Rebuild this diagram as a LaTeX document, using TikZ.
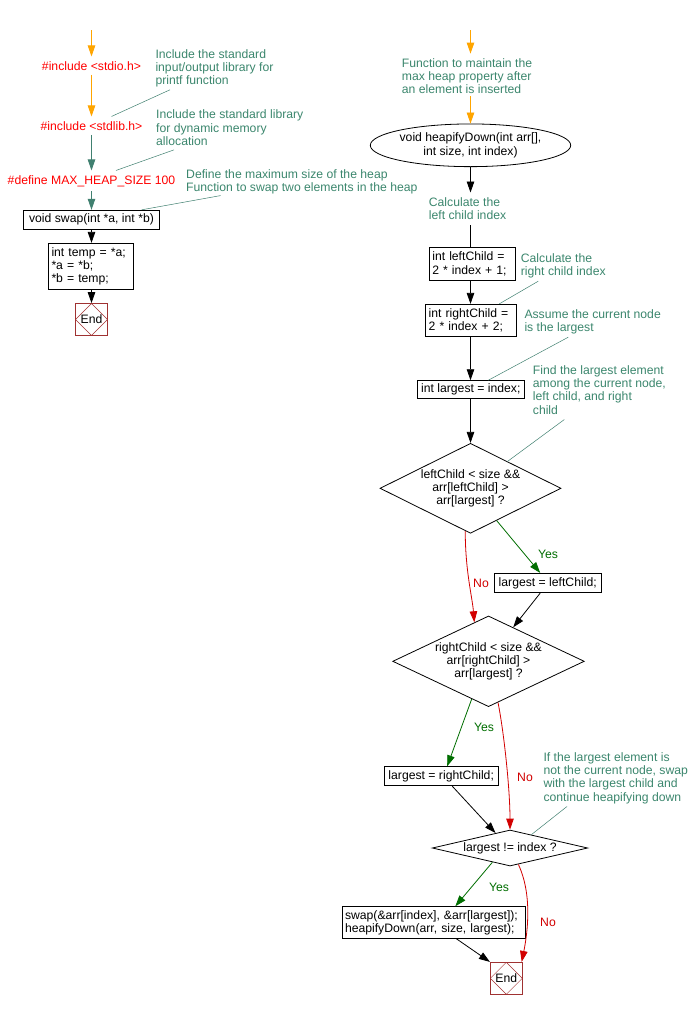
\documentclass[tikz,border=0pt]{standalone}
\usepackage{fontspec}
\setmainfont{Liberation Sans}
\usetikzlibrary{arrows.meta,shapes.geometric,calc}
\definecolor{notec}{RGB}{60,135,110}
\definecolor{orng}{RGB}{255,165,0}
\definecolor{tealc}{RGB}{64,128,112}
\definecolor{yesc}{RGB}{0,110,0}
\definecolor{noc}{RGB}{210,0,0}
\definecolor{incc}{RGB}{255,0,0}
\definecolor{endc}{RGB}{160,50,50}
\begin{document}
\begin{tikzpicture}[x=1pt,y=-1pt,
  every node/.append style={font=\fontsize{12.2}{13.3}\selectfont},
  conn/.style={-{Triangle[width=7.5pt,length=11pt]}, line width=0.8pt},
  plainln/.style={line width=0.8pt},
  cmtln/.style={tealc, line width=0.5pt},
  incl/.style={text=incc, inner sep=4.5pt, anchor=base},
  cmt/.style={text=notec, inner sep=0pt, anchor=north west, align=left},
  flowbox/.style={draw, line width=0.8pt, inner sep=0pt, align=center},
  leftbox/.style={draw, line width=0.8pt, inner xsep=3pt, inner ysep=0pt, align=left},
  decision/.style={diamond, draw, line width=0.8pt, inner sep=0pt, align=center},
  yeslab/.style={text=yesc, inner sep=0pt},
  nolab/.style={text=noc, inner sep=0pt},
  endbox/.style={draw=endc, line width=0.8pt, minimum size=32pt, inner sep=0pt,
    path picture={\draw[endc, line width=0.5pt]
      (path picture bounding box.north) -- (path picture bounding box.east) --
      (path picture bounding box.south) -- (path picture bounding box.west) -- cycle;}}
]
\fill[white] (0,0) rectangle (699,1009);
\useasboundingbox (0,0) rectangle (699,1009);

% ---------------- left column ----------------
\coordinate (ltop) at (91.5,30);
\node[incl] (inc1) at (91.5,70) {\#include <stdio.h>};
\node[incl] (inc2) at (91.5,130) {\#include <stdlib.h>};
\node[incl] (def) at (91.5,184) {\#define MAX\_HEAP\_SIZE 100};
\node[flowbox, minimum width=136pt, minimum height=19pt] (swp) at (91.5,219.7) {void swap(int *a, int *b)};
\node[leftbox, text width=79pt, minimum height=46pt] (tmp) at (91,266.3) {int temp = *a;\\{}*a = *b;\\{}*b = temp;};
\node[endbox] (e1) at (91.5,319.5) {End};

\draw[conn, orng] (ltop) -- (inc1);
\draw[conn, orng] (inc1) -- (inc2);
\draw[conn, tealc] (inc2) -- (def);
\draw[conn, tealc] (def) -- (swp);
\draw[conn] (swp) -- (tmp.north -| swp.south);
\draw[conn] (tmp.south -| e1.north) -- (e1);

\node[cmt] (c1) at (155.3,49.1) {Include the standard\\ input/output library for\\ printf function};
\node[cmt] (c2) at (156,109.8) {Include the standard library\\ for dynamic memory\\ allocation};
\node[cmt] (c3) at (186,169.1) {Define the maximum size of the heap\\ Function to swap two elements in the heap};
\draw[cmtln] ($(c1.south west)+(14.7,2.3)$) -- ([xshift=20pt]inc2.north);
\draw[cmtln] ($(c2.south west)+(18,4.1)$) -- ([xshift=24.5pt]def.north);
\draw[cmtln] ($(c3.south west)+(34.7,1.4)$) -- ([xshift=50.2pt]swp.north);

% ---------------- right column ----------------
\coordinate (rtop) at (470.5,30);
\node[cmt] (fn) at (401.7,58.1) {Function to maintain the\\ max heap property after\\ an element is inserted};
\node[ellipse, draw, line width=0.8pt, minimum width=161pt, minimum height=42.7pt, inner sep=0pt, align=center] (ell) at (470.5,145.3) {void heapifyDown(int arr[],\\ int size, int index)};
\draw[conn, orng] (rtop) -- ($(rtop |- fn.north)+(0,-4.5)$);
\draw[conn, orng] ($(rtop |- fn.south)+(0,2)$) -- (ell);

\node[cmt] (calc1) at (428.7,197.5) {Calculate the\\ left child index};
\draw[conn] (ell) -- ($(ell.south |- calc1.north)+(0,-5)$);

\node[leftbox, text width=80.4pt, minimum height=33.3pt] (lc) at (472.5,264) {int leftChild =\\ 2 * index + 1;};
\node[leftbox, text width=85pt, minimum height=32.4pt] (rc) at (471.2,320.5) {int rightChild =\\ 2 * index + 2;};
\node[flowbox, minimum width=107pt, minimum height=17.7pt] (lg) at (470.8,389.5) {int largest = index;};
\draw[plainln] ($(ell.south |- calc1.south)+(0,5)$) -- (ell.south |- lc.north);
\draw[conn] (lc.south -| ell.south) -- (rc.north -| ell.south);
\draw[conn] (rc.south -| ell.south) -- (lg.north -| ell.south);

\node[decision, minimum width=181pt, minimum height=90pt, aspect=2.01] (d1) at (470.5,488.3) {leftChild < size \&\&\\ arr[leftChild] >\\ arr[largest] ?};
\draw[conn] (lg.south -| d1.north) -- (d1);

\node[cmt] (c6) at (520.7,253.1) {Calculate the\\ right child index};
\node[cmt] (c7) at (524.3,309.1) {Assume the current node\\ is the largest};
\node[cmt] (c8) at (532.7,365.1) {Find the largest element\\ among the current node,\\ left child, and right\\ child};
\draw[cmtln] ($(c6.south west)+(17.6,3)$) -- ([xshift=28pt]rc.north);
\draw[cmtln] ($(c7.south west)+(44,3)$) -- ([xshift=17.5pt]lg.north);
\draw[cmtln] ($(c8.south west)+(31.6,5.2)$) -- (d1.36);

\node[flowbox, minimum width=106.7pt, minimum height=19.4pt] (ll) at (547.7,583) {largest = leftChild;};
\draw[conn, yesc] (d1.-51) -- ([xshift=-7.5pt]ll.north);
\node[yeslab] (y1) at (548,554) {Yes};

\node[decision, minimum width=191.6pt, minimum height=90.7pt, aspect=2.11] (d2) at (488.5,661.3) {rightChild < size \&\&\\ arr[rightChild] >\\ arr[largest] ?};
\draw[conn, noc] (d1.-97) .. controls +(0,40) and +(-2,-25) .. (d2.110);
\node[nolab] (n1) at (481,583) {No};
\draw[conn] ([xshift=-7.5pt]ll.south) -- (d2.54);

\node[flowbox, minimum width=114.3pt, minimum height=19pt] (rr) at (441.2,776.2) {largest = rightChild;};
\draw[conn, yesc] (d2.-114) -- ([xshift=6pt]rr.north);
\node[yeslab] (y2) at (484,727) {Yes};

\node[decision, minimum width=155.4pt, minimum height=36pt, aspect=4.3] (d3) at (510,848) {largest != index ?};
\draw[conn, noc] (d2.-77) .. controls +(6,30) and +(0,-40) .. (d3.north);
\node[nolab] (n2) at (525,777) {No};
\draw[conn] ([xshift=11pt]rr.south) -- (d3.134);

\node[cmt] (c9) at (543.3,752.1) {If the largest element is\\ not the current node, swap\\ with the largest child and\\ continue heapifying down};
\draw[cmtln] ($(c9.south west)+(23.7,2.7)$) -- (d3.32);

\node[leftbox, text width=177.6pt, minimum height=31.6pt] (sw) at (433.8,922.5) {swap(\&arr[index], \&arr[largest]);\\ heapifyDown(arr, size, largest);};
\draw[conn, yesc] (d3.-141) -- ([xshift=21.5pt]sw.north);
\node[yeslab] (y3) at (499,887) {Yes};

\node[endbox] (e2) at (506.3,978.3) {End};
\draw[conn, noc] (d3.-63) .. controls +(14,30) and +(6,-30) .. ([xshift=-1pt]e2.north east);
\node[nolab] (n3) at (548,922) {No};
\draw[conn] ([xshift=22.5pt]sw.south) -- (e2.north west);
\end{tikzpicture}
\end{document}
